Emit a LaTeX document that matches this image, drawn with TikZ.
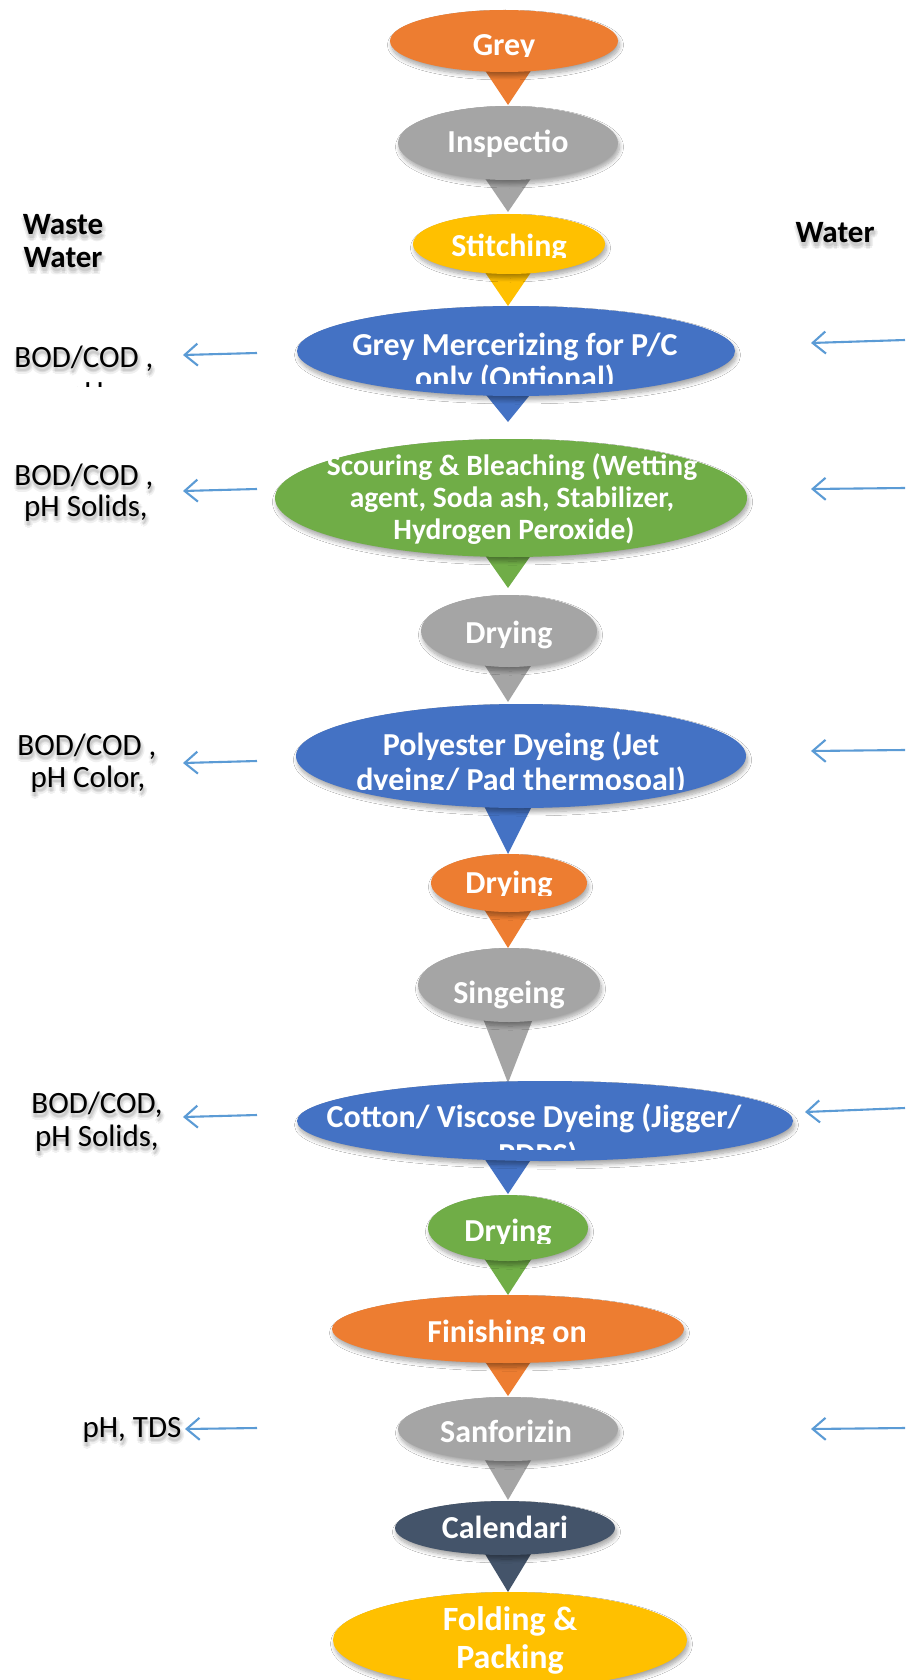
\documentclass[tikz,border=0pt]{standalone}
\usepackage{fontspec}
\setmainfont{Carlito}
\usetikzlibrary{shapes.geometric,arrows.meta,shadows.blur}

\definecolor{cOrange}{HTML}{ED7D31}
\definecolor{cGray}{HTML}{A5A5A5}
\definecolor{cGold}{HTML}{FFC000}
\definecolor{cBlue}{HTML}{4472C4}
\definecolor{cGreen}{HTML}{70AD47}
\definecolor{cSlate}{HTML}{44546A}
\definecolor{cArrow}{HTML}{5B9BD5}

\tikzset{
  bubble/.style={ellipse, inner sep=0pt, draw=none, fill=#1,
    blur shadow={shadow xshift=1.5pt, shadow yshift=-4pt, shadow blur radius=4pt,
                 shadow opacity=35, shadow blur steps=8}},
  steptext/.style={text=white, font=\bfseries\fontsize{#1}{#1}\selectfont,
    inner sep=0pt, anchor=base},
  steptext/.default=32,
  sidetext/.style={text=black, font=\fontsize{31}{31}\selectfont,
    inner sep=0pt, anchor=base},
  headtext/.style={text=black, font=\bfseries\fontsize{31}{31}\selectfont,
    inner sep=0pt, anchor=base},
  flowarrow/.style={draw=cArrow, line width=2.1pt,
    -{Straight Barb[length=13pt,width=22pt]}},
}

% process bubble: ellipse with a downward pointer ending at the next bubble
% #1 name, #2 cx, #3 cy, #4 rx, #5 ry, #6 colour, #7 pointer tip y
\newcommand\callout[7]{%
  \fill[#6] (482,#3+#5-6) -- (534,#3+#5-6) -- (508,#7) -- cycle;
  \node[bubble=#6, minimum width={2*#4pt}, minimum height={2*#5pt}] (#1) at (#2,#3) {};
}
% white label line, cut off below clip line #5
% #1 size, #2 name, #3 x, #4 baseline, #5 clip y, #6 text
\newcommand\steptxt[6]{%
  \begin{scope}
    \clip (0,0) rectangle (905,#5);
    \node[steptext=#1] (#2) at (#3,#4) {#6};
  \end{scope}
}
% soft drop shadow under black text
\newcommand\shcopy[4]{\makebox[0pt][l]{\kern#1\raisebox{#2}{\textcolor{#3}{#4}}}}
\newcommand\softshadow[1]{%
  \shcopy{4pt}{-4pt}{black!6}{#1}\shcopy{-2pt}{-4pt}{black!6}{#1}%
  \shcopy{1pt}{-1pt}{black!6}{#1}\shcopy{1pt}{-7pt}{black!6}{#1}%
  \shcopy{3pt}{-6pt}{black!6}{#1}\shcopy{-1pt}{-6pt}{black!6}{#1}%
  \shcopy{3pt}{-2pt}{black!6}{#1}\shcopy{-1pt}{-2pt}{black!6}{#1}%
  \shcopy{2.5pt}{-4pt}{black!13}{#1}\shcopy{-0.5pt}{-4pt}{black!13}{#1}%
  \shcopy{1pt}{-2.5pt}{black!13}{#1}\shcopy{1pt}{-5.5pt}{black!13}{#1}%
  \shcopy{1pt}{-4pt}{black!20}{#1}#1}

\begin{document}
\begin{tikzpicture}[x=1pt,y=-1pt]
\useasboundingbox (0,0) rectangle (905,1680);
\clip (0,0) rectangle (905,1680);
\fill[white] (0,0) rectangle (905,1680);

% ---- process chain ----
\callout{grey}{504}{41}{114}{31}{cOrange}{105}
\steptxt{32}{tgrey}{504}{56}{56.5}{Grey}

\callout{insp}{508}{143}{110}{37}{cGray}{212}
\steptxt{32}{tinsp}{508}{153}{1680}{Inspectio}

\callout{stitch}{509}{244}{96}{30}{cGold}{306}
\steptxt{32}{tstitch}{509}{257}{258}{Stitching}

\callout{merc}{516}{351}{219}{45}{cBlue}{422}
\steptxt{32}{tmercA}{515}{355}{1680}{Grey Mercerizing for P/C}
\steptxt{32}{tmercB}{515}{388}{383}{only (Optional)}

\callout{scour}{511}{498}{236}{59}{cGreen}{588}
\steptxt{29.5}{tscourA}{512}{475}{1680}{Scouring \& Bleaching (Wetting}
\steptxt{29.5}{tscourB}{512}{507}{1680}{agent, Soda ash, Stabilizer,}
\steptxt{29.5}{tscourC}{514}{539}{1680}{Hydrogen Peroxide)}

\callout{dryA}{509}{631}{88}{36}{cGray}{702}
\steptxt{32}{tdryA}{509}{643}{1680}{Drying}

\callout{poly}{521}{756}{225}{52}{cBlue}{854}
\steptxt{32}{tpolyA}{521}{755}{1680}{Polyester Dyeing (Jet}
\steptxt{32}{tpolyB}{521}{790}{789}{dyeing/ Pad thermosoal)}

\callout{dryB}{509}{883}{78}{29}{cOrange}{948}
\steptxt{32}{tdryB}{509}{893}{895}{Drying}

\callout{sing}{509}{985}{91}{37}{cGray}{1083}
\steptxt{32}{tsing}{509}{1003}{1680}{Singeing}

\callout{cot}{545}{1121}{248}{40}{cBlue}{1194}
\steptxt{32}{tcotA}{534}{1127}{1680}{Cotton/ Viscose Dyeing (Jigger/}
\steptxt{32}{tcotB}{538}{1165}{1149}{PDPS)}

\callout{dryC}{508}{1228}{80}{33}{cGreen}{1295}
\steptxt{32}{tdryC}{508}{1241}{1243}{Drying}

\callout{fin}{508}{1329}{176}{34}{cOrange}{1396}
\steptxt{32}{tfin}{507}{1342}{1343}{Finishing on}

\callout{sanf}{508}{1429}{110}{32}{cGray}{1500}
\steptxt{32}{tsanf}{506}{1442}{1680}{Sanforizin}

\callout{cal}{505}{1528}{110}{27}{cSlate}{1592}
\steptxt{32}{tcal}{505}{1538}{1539}{Calendari}

\node[bubble=cGold, minimum width=354pt, minimum height=96pt] (fold) at (510,1640) {};
\steptxt{34}{tfoldA}{510}{1630}{1680}{Folding \&}
\steptxt{34}{tfoldB}{510}{1668}{1680}{Packing}

% ---- column headings ----
\node[headtext] (hwasteA) at (63,235) {\softshadow{Waste}};
\node[headtext] (hwasteB) at (63,268) {\softshadow{Water}};
\node[headtext] (hwater) at (835,243) {\softshadow{Water}};

% ---- effluent labels ----
\node[sidetext] (e1a) at (84,367) {\softshadow{BOD/COD ,}};
\begin{scope}
  \clip (0,0) rectangle (905,386);
  \node[sidetext] (e1b) at (86,402) {pH};
\end{scope}
\node[sidetext] (e2a) at (84,485) {\softshadow{BOD/COD ,}};
\node[sidetext] (e2b) at (86,516) {\softshadow{pH Solids,}};
\node[sidetext] (e3a) at (87,755) {\softshadow{BOD/COD ,}};
\node[sidetext] (e3b) at (88,787) {\softshadow{pH Color,}};
\node[sidetext] (e4a) at (97,1113) {\softshadow{BOD/COD,}};
\node[sidetext] (e4b) at (97,1146) {\softshadow{pH Solids,}};
\node[sidetext] (e5a) at (132,1437) {\softshadow{pH, TDS}};

% ---- waste water out (left) and water in (right) ----
\coordinate (out1s) at (257,353);  \coordinate (out1e) at (183,355);
\coordinate (out2s) at (257,489);  \coordinate (out2e) at (183,491);
\coordinate (out3s) at (257,761);  \coordinate (out3e) at (183,763);
\coordinate (out4s) at (257,1115); \coordinate (out4e) at (183,1117);
\coordinate (out5s) at (257,1428); \coordinate (out5e) at (185,1429);
\coordinate (in1s) at (905,340);   \coordinate (in1e) at (811,343);
\coordinate (in2s) at (905,488);   \coordinate (in2e) at (811,489);
\coordinate (in3s) at (905,750);   \coordinate (in3e) at (811,751);
\coordinate (in4s) at (905,1108);  \coordinate (in4e) at (805,1112);
\coordinate (in5s) at (905,1428);  \coordinate (in5e) at (811,1429);
\foreach \k in {1,...,5}{
  \draw[flowarrow] (out\k s) -- (out\k e);
  \draw[flowarrow] (in\k s) -- (in\k e);
}
\end{tikzpicture}
\end{document}
